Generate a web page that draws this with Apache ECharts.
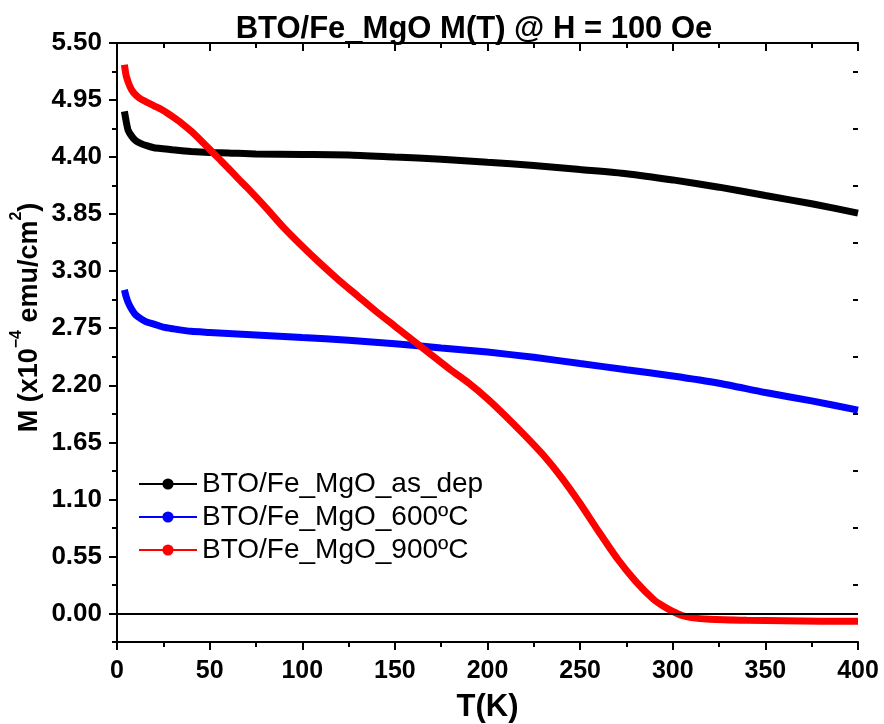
<!DOCTYPE html>
<html>
<head>
<meta charset="utf-8">
<script src="https://cdn.jsdelivr.net/npm/echarts@6/dist/echarts.min.js"></script>
<style>
  html, body { margin: 0; padding: 0; background: #fff; }
  #chart { width: 884px; height: 724px; }
</style>
</head>
<body>
<div id="chart"></div>
<script>
// M(T) curves, T in K, M in 1e-4 emu/cm^2
const asDepT = [4, 5, 6, 8, 10, 13, 16, 20, 25, 30, 40, 50, 60, 75, 100, 125, 150, 175, 200, 225, 250, 275, 300, 325, 350, 375, 400]
const asDepM = [4.84, 4.74, 4.66, 4.60, 4.56, 4.53, 4.51, 4.49, 4.48, 4.47, 4.455, 4.445, 4.44, 4.43, 4.425, 4.42, 4.40, 4.38, 4.35, 4.32, 4.28, 4.24, 4.18, 4.11, 4.03, 3.95, 3.86]

const t600T = [4, 5, 6, 8, 10, 13, 16, 20, 25, 30, 40, 50, 60, 75, 100, 125, 150, 175, 200, 225, 250, 275, 300, 325, 350, 375, 400]
const t600M = [3.12, 3.05, 3.00, 2.93, 2.88, 2.84, 2.81, 2.79, 2.76, 2.745, 2.72, 2.71, 2.70, 2.685, 2.66, 2.635, 2.60, 2.56, 2.52, 2.47, 2.41, 2.35, 2.29, 2.22, 2.13, 2.05, 1.96]

const t900T = [4, 5, 7, 9, 12, 15, 20, 25, 30, 35, 40, 45, 50, 55, 60, 65, 70, 80, 90, 100, 110, 120, 130, 140, 150, 160, 170, 180, 190, 200, 210, 220, 230, 240, 250, 260, 270, 280, 290, 295, 300, 305, 310, 320, 340, 360, 380, 400]
const t900M = [5.29, 5.18, 5.08, 5.02, 4.97, 4.94, 4.895, 4.85, 4.79, 4.725, 4.65, 4.565, 4.475, 4.385, 4.295, 4.20, 4.11, 3.92, 3.72, 3.54, 3.37, 3.21, 3.06, 2.91, 2.77, 2.63, 2.49, 2.35, 2.22, 2.07, 1.90, 1.72, 1.53, 1.31, 1.06, 0.79, 0.53, 0.31, 0.13, 0.07, 0.02, -0.02, -0.04, -0.055, -0.065, -0.07, -0.075, -0.075]

const seriesNames = ['BTO/Fe_MgO_as_dep', 'BTO/Fe_MgO_600ºC', 'BTO/Fe_MgO_900ºC']
const yTicks = [0, 0.55, 1.10, 1.65, 2.20, 2.75, 3.30, 3.85, 4.40, 4.95, 5.50]
const yMinorTicks = [-0.275, 0.275, 0.825, 1.375, 1.925, 2.475, 3.025, 3.575, 4.125, 4.675, 5.225]

const font = 'Liberation Sans, Arial, sans-serif'
const zip = (a, b) => a.map((v, i) => [v, b[i]])

let myChart = echarts.init(document.getElementById('chart'))

let lineSeries = (name, xs, ys, color) => ({
  name: name,
  type: 'line',
  data: zip(xs, ys),
  smooth: 0.2,
  symbol: 'circle',
  symbolSize: 14,
  showSymbol: false,
  lineStyle: { color: color, width: 7 },
  itemStyle: { color: color },
  emphasis: { disabled: true }
})

let yBase = {
  type: 'value',
  min: -0.275,
  max: 5.5,
  splitLine: { show: false },
  axisLine: { show: true, lineStyle: { color: '#000', width: 2 } }
}

let option = {
  animation: false,
  title: {
    text: 'BTO/Fe_MgO M(T) @ H = 100 Oe',
    left: 469,
    textAlign: 'center',
    top: 9,
    textStyle: { fontFamily: font, fontSize: 31, fontWeight: 'bold', color: '#000' }
  },
  legend: {
    data: seriesNames,
    left: 133,
    top: 465,
    orient: 'vertical',
    itemWidth: 58,
    itemHeight: 14,
    itemGap: 5,
    textStyle: { fontFamily: font, fontSize: 28, color: '#000' }
  },
  grid: { left: 117, right: 26, top: 43, bottom: 82, outerBoundsMode: 'none' },
  xAxis: [{
    type: 'value',
    min: 0,
    max: 400,
    interval: 50,
    name: 'T(K)',
    nameLocation: 'middle',
    nameGap: 50,
    nameMoveOverlap: false,
    nameTextStyle: { fontFamily: font, fontSize: 31, fontWeight: 'bold', color: '#000' },
    splitLine: { show: false },
    axisLine: { onZero: false, lineStyle: { color: '#000', width: 2 } },
    axisTick: { length: 8, lineStyle: { width: 2 } },
    minorTick: { show: true, splitNumber: 2, length: 5, lineStyle: { color: '#000', width: 2 } },
    axisLabel: { fontFamily: font, fontSize: 25, fontWeight: 'bold', color: '#000', margin: 17 }
  }, {
    type: 'value',
    position: 'top',
    min: 0,
    max: 400,
    interval: 50,
    splitLine: { show: false },
    axisLine: { onZero: false, lineStyle: { color: '#000', width: 2 } },
    axisTick: { inside: true, length: 8, lineStyle: { width: 2 } },
    minorTick: { show: true, splitNumber: 2, length: 5, lineStyle: { color: '#000', width: 2 } },
    axisLabel: { show: false }
  }],
  yAxis: [Object.assign({}, yBase, {
    position: 'left',
    name: '{b|M (x10}{s|−4}{b| emu/cm}{s|2}{b|)}',
    nameLocation: 'middle',
    nameGap: 74,
    nameMoveOverlap: false,
    nameTextStyle: {
      padding: [0, 0, 0, 50],
      rich: {
        b: { fontFamily: font, fontSize: 27, fontWeight: 'bold', color: '#000', verticalAlign: 'bottom', lineHeight: 34 },
        s: { fontFamily: font, fontSize: 16, fontWeight: 'bold', color: '#000', verticalAlign: 'top', lineHeight: 34 }
      }
    },
    axisTick: { customValues: yTicks, length: 8, lineStyle: { width: 2 } },
    axisLabel: {
      customValues: yTicks,
      formatter: v => v.toFixed(2),
      fontFamily: font, fontSize: 26, fontWeight: 'bold', color: '#000', margin: 15
    }
  }), Object.assign({}, yBase, {
    position: 'right',
    axisTick: { inside: true, customValues: yTicks, length: 8, lineStyle: { width: 2 } },
    axisLabel: { show: false }
  }), Object.assign({}, yBase, {
    position: 'left',
    axisLine: { show: false },
    axisTick: { customValues: yMinorTicks, length: 5, lineStyle: { width: 2, color: '#000' } },
    axisLabel: { show: false }
  }), Object.assign({}, yBase, {
    position: 'right',
    axisLine: { show: false },
    axisTick: { inside: true, customValues: yMinorTicks, length: 5, lineStyle: { width: 2, color: '#000' } },
    axisLabel: { show: false }
  })],
  series: [
    Object.assign(lineSeries(seriesNames[0], asDepT, asDepM, '#000000'), {
      markLine: {
        silent: true,
        symbol: 'none',
        label: { show: false },
        lineStyle: { color: '#000', width: 2, type: 'solid' },
        data: [{ yAxis: 0 }]
      }
    }),
    lineSeries(seriesNames[1], t600T, t600M, '#0000ff'),
    lineSeries(seriesNames[2], t900T, t900M, '#ff0000')
  ]
}
myChart.setOption(option)
</script>
</body>
</html>
